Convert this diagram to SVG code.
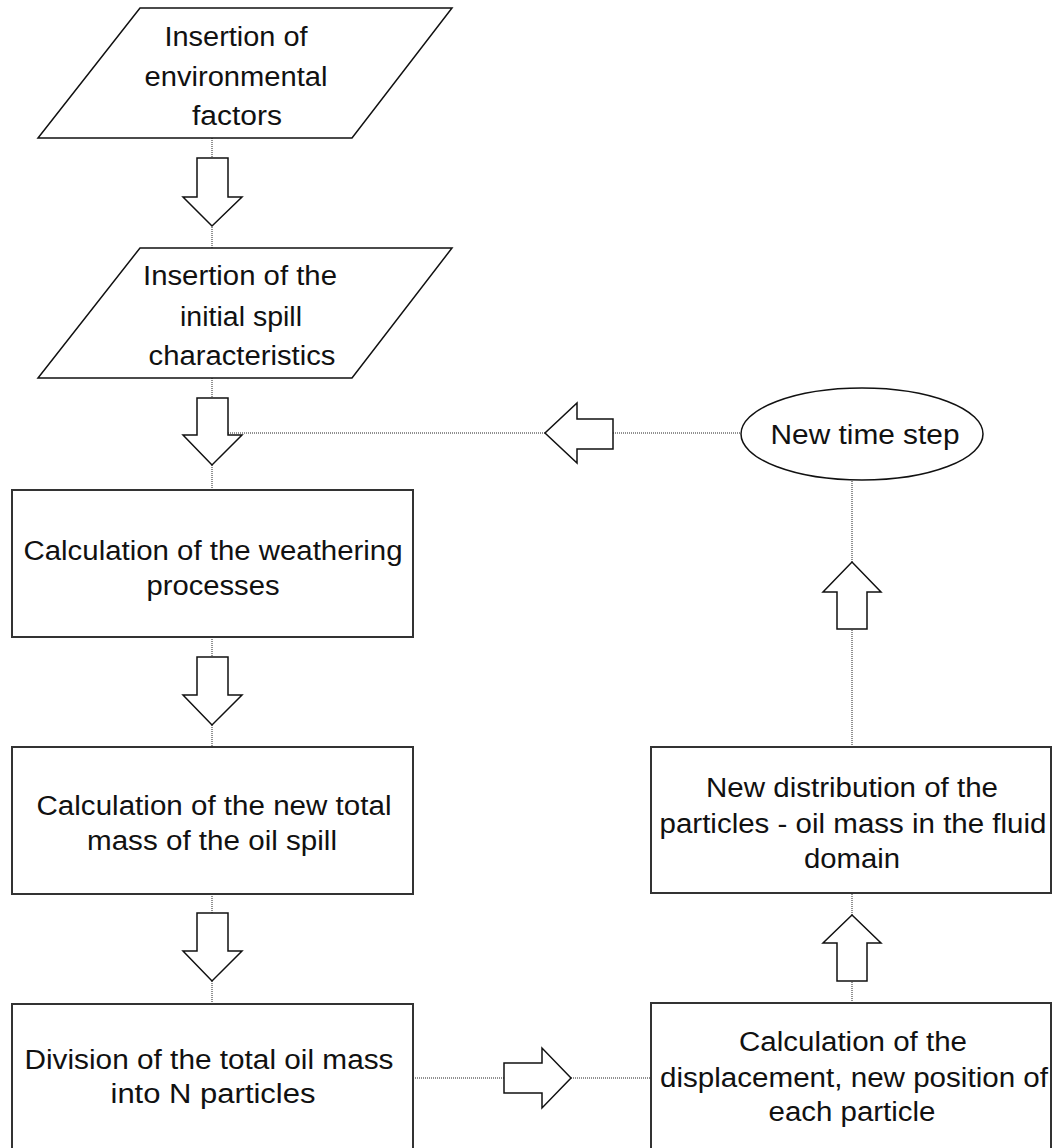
<svg xmlns="http://www.w3.org/2000/svg" width="1053" height="1148" viewBox="0 0 1053 1148">
<style>
.shape{fill:#fff;stroke:#111;stroke-width:1.5}
.box{fill:#fff;stroke:#333;stroke-width:2}
.arrow{fill:#fff;stroke:#111;stroke-width:1.5;stroke-linejoin:miter}
.dot{fill:none;stroke:#222;stroke-width:1;stroke-dasharray:1 1}
text{font-family:"Liberation Sans",Arial,sans-serif;font-size:27px;fill:#111;text-anchor:middle}
</style>
<rect width="1053" height="1148" fill="#fff"/>
<g id="connectors">
<path class="dot" d="M212 138V158M212 225V248M212 378V398M212 465V489M228 433H546M613 433H742M212 637V657M212 725V747M212 894V913M212 981V1004M413 1078H504M571 1078H651M852 1003V981M852 915V893M852 747V629M852 562V480"/>
<polygon class="arrow" points="197,158 228,158 228,197 242,197 212,226 183,197 197,197"/>
<polygon class="arrow" points="197,398 228,398 228,435 242,435 212,465 183,435 197,435"/>
<polygon class="arrow" points="197,657 228,657 228,695 242,695 212,725 183,695 197,695"/>
<polygon class="arrow" points="197,913 228,913 228,951 242,951 212,981 183,951 197,951"/>
<polygon class="arrow" points="613,419 613,449 577,449 577,463 545,433 577,403 577,419"/>
<polygon class="arrow" points="504,1063 542,1063 542,1048 571,1078 542,1108 542,1093 504,1093"/>
<polygon class="arrow" points="837,981 867,981 867,943 881,943 852,915 823,943 837,943"/>
<polygon class="arrow" points="837,629 867,629 867,592 881,592 852,562 823,592 837,592"/>
</g>
<g id="n1">
<polygon class="shape" points="140,8 452,8 352,138 38,138"/>
<text x="236" y="46" textLength="143" lengthAdjust="spacingAndGlyphs">Insertion of</text>
<text x="236" y="86" textLength="183" lengthAdjust="spacingAndGlyphs">environmental</text>
<text x="237" y="125" textLength="90" lengthAdjust="spacingAndGlyphs">factors</text>
</g>
<g id="n2">
<polygon class="shape" points="140,248 452,248 352,378 38,378"/>
<text x="240" y="285" textLength="194" lengthAdjust="spacingAndGlyphs">Insertion of the</text>
<text x="241" y="326" textLength="122" lengthAdjust="spacingAndGlyphs">initial spill</text>
<text x="242" y="365" textLength="187" lengthAdjust="spacingAndGlyphs">characteristics</text>
</g>
<g id="n3">
<rect class="box" x="12" y="490" width="401" height="147"/>
<text x="213" y="560" textLength="379" lengthAdjust="spacingAndGlyphs">Calculation of the weathering</text>
<text x="213" y="595" textLength="133" lengthAdjust="spacingAndGlyphs">processes</text>
</g>
<g id="n4">
<rect class="box" x="12" y="747" width="401" height="147"/>
<text x="214" y="815" textLength="355" lengthAdjust="spacingAndGlyphs">Calculation of the new total</text>
<text x="212" y="850" textLength="250" lengthAdjust="spacingAndGlyphs">mass of the oil spill</text>
</g>
<g id="n5">
<rect class="box" x="12" y="1004" width="401" height="150"/>
<text x="209" y="1069" textLength="369" lengthAdjust="spacingAndGlyphs">Division of the total oil mass</text>
<text x="213" y="1103" textLength="205" lengthAdjust="spacingAndGlyphs">into N particles</text>
</g>
<g id="n6">
<rect class="box" x="651" y="1003" width="400" height="150"/>
<text x="853" y="1051" textLength="228" lengthAdjust="spacingAndGlyphs">Calculation of the</text>
<text x="854" y="1087" textLength="388" lengthAdjust="spacingAndGlyphs">displacement, new position of</text>
<text x="852" y="1121" textLength="167" lengthAdjust="spacingAndGlyphs">each particle</text>
</g>
<g id="n7">
<rect class="box" x="651" y="747" width="400" height="146"/>
<text x="852" y="797" textLength="292" lengthAdjust="spacingAndGlyphs">New distribution of the</text>
<text x="853" y="833" textLength="387" lengthAdjust="spacingAndGlyphs">particles - oil mass in the fluid</text>
<text x="852" y="868" textLength="96" lengthAdjust="spacingAndGlyphs">domain</text>
</g>
<g id="n8">
<ellipse class="shape" cx="862" cy="434" rx="121" ry="46"/>
<text x="865" y="444" textLength="189" lengthAdjust="spacingAndGlyphs">New time step</text>
</g>
</svg>
